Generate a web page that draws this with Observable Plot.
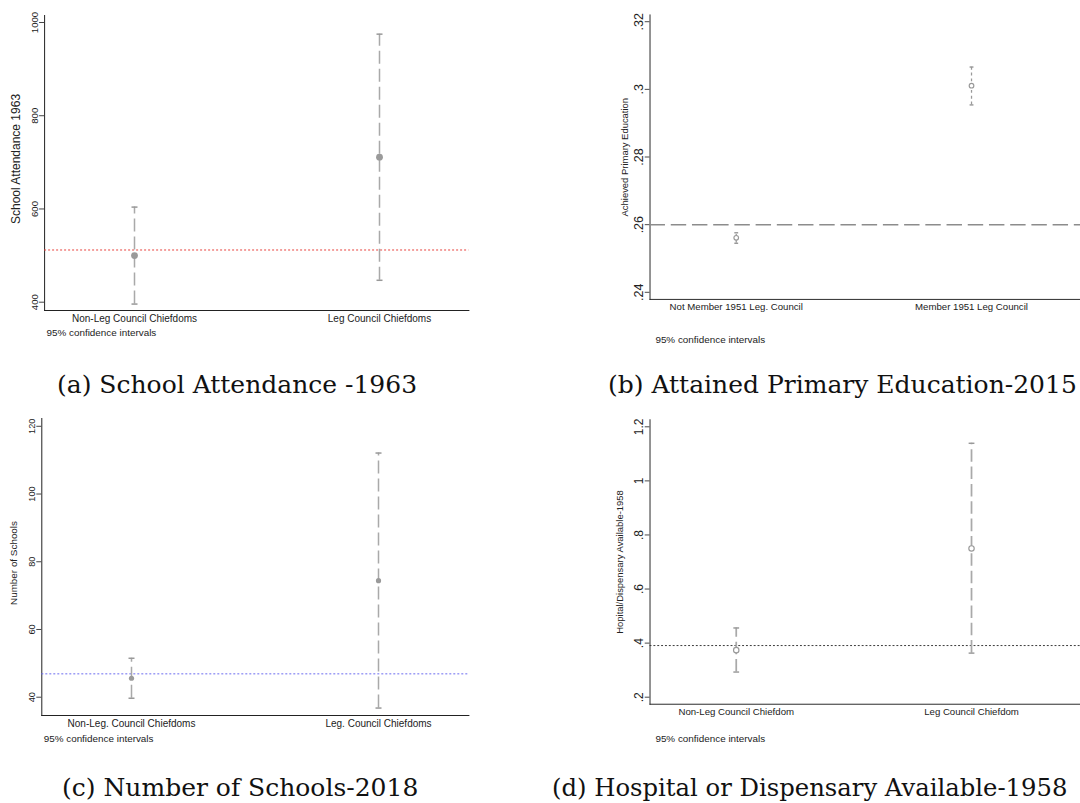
<!DOCTYPE html>
<html><head><meta charset="utf-8">
<script src="https://cdn.jsdelivr.net/npm/d3@7"></script>
<script src="https://cdn.jsdelivr.net/npm/@observablehq/plot@0.6"></script>
<style>
html,body{margin:0;padding:0;background:#fff;overflow:hidden;width:1080px;height:803px;}
#root{position:relative;width:1080px;height:803px;overflow:hidden;background:#fff;}
.panel{position:absolute;}
.caption{position:absolute;font-family:"DejaVu Serif",serif;font-size:25px;line-height:25px;color:#111;white-space:nowrap;}
.note{position:absolute;font-family:"Liberation Sans",Arial,sans-serif;font-size:9.9px;line-height:10px;color:#222;white-space:nowrap;}
</style></head>
<body><div id="root"></div>
<script>
// ---------- data ----------
const aCategories = ["Non-Leg Council Chiefdoms", "Leg Council Chiefdoms"];
const aMean = [500, 711];
const aLow = [396, 447];
const aHigh = [604, 975];
const aReference = [512];
const aTicks = [400, 600, 800, 1000];
const aTickLabels = ["400", "600", "800", "1000"];
const aYLabel = "School Attendance 1963";
const aCaption = "(a) School Attendance -1963";

const bCategories = ["Not Member 1951 Leg. Council", "Member 1951 Leg Council"];
const bMean = [0.2561, 0.3011];
const bLow = [0.2545, 0.2954];
const bHigh = [0.2576, 0.3066];
const bReference = [0.26];
const bTicks = [0.24, 0.26, 0.28, 0.3, 0.32];
const bTickLabels = [".24", ".26", ".28", ".3", ".32"];
const bYLabel = "Achieved Primary Education";
const bCaption = "(b) Attained Primary Education-2015";

const cCategories = ["Non-Leg. Council Chiefdoms", "Leg. Council Chiefdoms"];
const cMean = [45.6, 74.4];
const cLow = [39.7, 36.8];
const cHigh = [51.5, 112.1];
const cReference = [46.9];
const cTicks = [40, 60, 80, 100, 120];
const cTickLabels = ["40", "60", "80", "100", "120"];
const cYLabel = "Number of Schools";
const cCaption = "(c) Number of Schools-2018";

const dCategories = ["Non-Leg Council Chiefdom", "Leg Council Chiefdom"];
const dMean = [0.374, 0.75];
const dLow = [0.293, 0.363];
const dHigh = [0.456, 1.139];
const dReference = [0.391];
const dTicks = [0.2, 0.4, 0.6, 0.8, 1, 1.2];
const dTickLabels = [".2", ".4", ".6", ".8", "1", "1.2"];
const dYLabel = "Hopital/Dispensary Available-1958";
const dCaption = "(d) Hospital or Dispensary Available-1958";

const noteText = "95% confidence intervals";

// ---------- drawing ----------
const capSymbol = {
  draw(ctx, size) {
    const r = Math.sqrt(size / Math.PI);
    ctx.moveTo(-r, 0);
    ctx.lineTo(r, 0);
  }
};

const root = document.getElementById("root");

function panel(d, g) {
  const rows = d.cats.map((c, i) => ({cat: c, mean: d.mean[i], lo: d.lo[i], hi: d.hi[i]}));
  const fmt = (v) => d.tickLabels[d.ticks.indexOf(v)] ?? String(v);
  const svg = Plot.plot({
    width: g.width, height: g.height,
    marginLeft: g.ml, marginRight: g.mr, marginTop: g.mt, marginBottom: g.mb,
    style: {fontFamily: "Liberation Sans, Arial, sans-serif", fontSize: g.catFont + "px", color: "#222", background: "transparent", overflow: "visible"},
    x: {type: "point", domain: d.cats, padding: g.pad, align: g.align, label: null, tickSize: 0, tickPadding: 4, line: true},
    y: {domain: g.ydom, ticks: d.ticks, tickFormat: fmt, tickRotate: -90, tickSize: 5, tickPadding: g.yPad, label: null, line: true},
    marks: [
      Plot.ruleY(d.ref, {stroke: g.refColor, strokeDasharray: g.refDash, strokeWidth: g.refWidth}),
      Plot.ruleX(rows, {x: "cat", y1: "lo", y2: "hi", stroke: g.ciColor, strokeWidth: g.ciWidth, strokeDasharray: g.ciDash}),
      Plot.dot(rows, {x: "cat", y: "lo", symbol: capSymbol, r: g.capR, fill: "none", stroke: g.capColor, strokeWidth: 1.5}),
      Plot.dot(rows, {x: "cat", y: "hi", symbol: capSymbol, r: g.capR, fill: "none", stroke: g.capColor, strokeWidth: 1.5}),
      g.hollow
        ? Plot.dot(rows, {x: "cat", y: "mean", r: g.dotR, fill: "white", stroke: "#999", strokeWidth: 1.2})
        : Plot.dot(rows, {x: "cat", y: "mean", r: g.dotR, fill: "#9a9a9a", stroke: "none"}),
      Plot.text([d.ylabel], {frameAnchor: "left", rotate: -90, dx: g.labelDx, dy: g.labelDy, fontSize: g.labelFont, textAnchor: "middle", lineAnchor: "middle", fill: "#222"})
    ]
  });
  svg.querySelectorAll('g[aria-label="y-axis tick label"]').forEach(el => el.setAttribute("font-size", g.tickFont));
  svg.querySelectorAll('g[aria-label="y-axis tick"], g[aria-label="x-axis line"], g[aria-label="y-axis line"]').forEach(el => el.setAttribute("stroke", "#444"));
  const wrap = document.createElement("div");
  wrap.className = "panel";
  wrap.style.left = g.left + "px";
  wrap.style.top = g.top + "px";
  wrap.appendChild(svg);
  root.appendChild(wrap);

  const note = document.createElement("div");
  note.className = "note";
  note.textContent = noteText;
  note.style.left = (g.left + g.ml + g.noteDx) + "px";
  note.style.top = (g.top + g.height - g.mb + g.noteDy - 5) + "px";
  root.appendChild(note);

  const cap = document.createElement("div");
  cap.className = "caption";
  cap.textContent = d.caption;
  cap.style.left = g.capLeft + "px";
  cap.style.top = g.capTop + "px";
  if (g.capFont) cap.style.fontSize = g.capFont + "px";
  root.appendChild(cap);
}

panel(
  {cats: aCategories, mean: aMean, lo: aLow, hi: aHigh, ref: aReference, ticks: aTicks, tickLabels: aTickLabels, ylabel: aYLabel, caption: aCaption},
  {left: 0, top: 0, width: 480, height: 350, ml: 44.1, mr: 11.6, mt: 15, mb: 40,
   ydom: [382.2, 1015], pad: 0.3652, align: 0.5, tickFont: 9.6, catFont: 10, yPad: 2,
   labelFont: 12, labelDx: -28.6, labelDy: -4, noteDx: 2.4, noteDy: 23,
   refColor: "#e8413c", refDash: "2,2", refWidth: 1,
   ciColor: "#a9a9a9", ciWidth: 1.5, ciDash: "13,5", capColor: "#999", capR: 3, dotR: 3.4, hollow: false,
   capLeft: 57, capTop: 372}
);

panel(
  {cats: bCategories, mean: bMean, lo: bLow, hi: bHigh, ref: bReference, ticks: bTicks, tickLabels: bTickLabels, ylabel: bYLabel, caption: bCaption},
  {left: 540, top: 0, width: 560, height: 350, ml: 113.6, mr: 0, mt: 15, mb: 40,
   ydom: [0.2379, 0.322], pad: 0.4129, align: 0.4438, tickFont: 13, catFont: 10, yPad: 2,
   labelFont: 9.8, labelDx: -25.8, labelDy: 0, noteDx: 1.8, noteDy: 30,
   refColor: "#8c8c8c", refDash: "16,6", refWidth: 1.5,
   ciColor: "#999", ciWidth: 1.3, ciDash: "3,3", capColor: "#999", capR: 2, dotR: 2.4, hollow: true,
   capLeft: 608, capTop: 372}
);

panel(
  {cats: cCategories, mean: cMean, lo: cLow, hi: cHigh, ref: cReference, ticks: cTicks, tickLabels: cTickLabels, ylabel: cYLabel, caption: cCaption},
  {left: 0, top: 400, width: 480, height: 355, ml: 41.3, mr: 11.6, mt: 18, mb: 40,
   ydom: [34.6, 122.3], pad: 0.3639, align: 0.5, tickFont: 9.2, catFont: 10, yPad: 2,
   labelFont: 9.9, labelDx: -27.5, labelDy: -4, noteDx: 2.4, noteDy: 23.7,
   refColor: "#6b6bf0", refDash: "2,2", refWidth: 1,
   ciColor: "#a9a9a9", ciWidth: 1.5, ciDash: "13,5", capColor: "#999", capR: 3, dotR: 2.6, hollow: false,
   capLeft: 62, capTop: 775}
);

panel(
  {cats: dCategories, mean: dMean, lo: dLow, hi: dHigh, ref: dReference, ticks: dTicks, tickLabels: dTickLabels, ylabel: dYLabel, caption: dCaption},
  {left: 540, top: 400, width: 560, height: 355, ml: 113.6, mr: 0, mt: 20, mb: 40,
   ydom: [0.174, 1.226], pad: 0.4129, align: 0.4438, tickFont: 12.5, catFont: 10, yPad: 2,
   labelFont: 9.8, labelDx: -30.9, labelDy: 0, noteDx: 1.8, noteDy: 23.7,
   refColor: "#333", refDash: "2,2", refWidth: 1,
   ciColor: "#a9a9a9", ciWidth: 1.8, ciDash: "13,5", capColor: "#999", capR: 3, dotR: 2.8, hollow: true,
   capLeft: 552, capTop: 775, capFont: 24.3}
);
</script></body></html>
